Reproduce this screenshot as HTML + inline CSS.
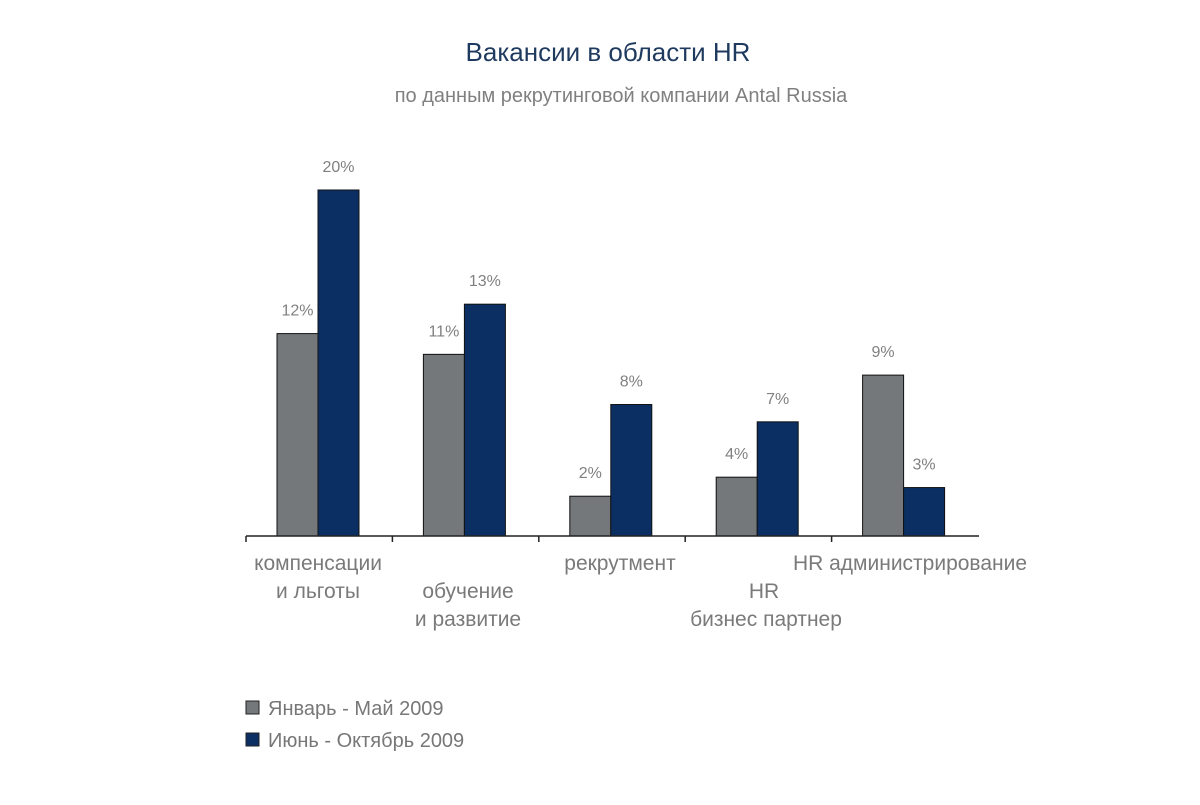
<!DOCTYPE html>
<html><head><meta charset="utf-8"><style>
body{margin:0;background:#fff;}
svg text{font-family:"Liberation Sans","DejaVu Sans",sans-serif;}
</style></head><body>
<svg id="chart" width="1200" height="800" viewBox="0 0 1200 800" xmlns="http://www.w3.org/2000/svg">
<rect width="1200" height="800" fill="#fff"/>
<text x="608" y="61" text-anchor="middle" font-size="26" fill="#1f3a5f">Вакансии в области HR</text>
<text x="621" y="102" text-anchor="middle" font-size="20" fill="#808080">по данным рекрутинговой компании Antal Russia</text>
<g id="bars"></g>
<g id="axis"></g>
<g>
<rect x="246" y="701" width="13" height="13" fill="#74787a" stroke="#222" stroke-width="1"/>
<text x="268" y="715" font-size="20" fill="#777">Январь - Май 2009</text>
<rect x="246" y="733" width="13" height="13" fill="#0b2f63" stroke="#222" stroke-width="1"/>
<text x="268" y="747" font-size="20" fill="#777">Июнь - Октябрь 2009</text>
</g>
</svg>
<script>
const categories = ["компенсации и льготы","обучение и развитие","рекрутмент","HR бизнес партнер","HR администрирование"];
const seriesJanMay = [11.7, 10.5, 2.3, 3.4, 9.3];
const seriesJunOct = [20, 13.4, 7.6, 6.6, 2.8];
const labelsJanMay = ["12%","11%","2%","4%","9%"];
const labelsJunOct = ["20%","13%","8%","7%","3%"];
const NS="http://www.w3.org/2000/svg";
const x0=246, band=146.4, baseY=536, pxPer=17.3;
const yScale=v=>baseY-v*pxPer;
const xBand=i=>x0+i*band;
function mk(tag,attrs,parent){const e=document.createElementNS(NS,tag);for(const k in attrs)e.setAttribute(k,attrs[k]);parent.appendChild(e);return e;}
const bars=document.getElementById('bars'), axis=document.getElementById('axis');
const labelLines=[[["компенсации",318,563],["и льготы",318,591]],[["обучение",468,591],["и развитие",468,619]],[["рекрутмент",620,563]],[["HR",764,591],["бизнес партнер",766,619]],[["HR администрирование",910,563]]];
categories.forEach((c,i)=>{
  const bx=xBand(i)+31, w=41;
  [[seriesJanMay,labelsJanMay,"#74787a","jan-may",0],[seriesJunOct,labelsJunOct,"#0b2f63","jun-oct",1]].forEach(([s,l,col,nm,k])=>{
    const x=bx+k*w, y=yScale(s[i]);
    const r=mk('rect',{x:x,y:y,width:w,height:baseY-y,fill:col,stroke:"#111","stroke-width":1},bars);
    
    
    const t=mk('text',{x:x+w/2,y:y-18,"text-anchor":"middle","font-size":16,fill:"#808080"},bars);
    t.textContent=l[i];
    
    
  });
  const tk=mk('line',{x1:xBand(i),x2:xBand(i),y1:baseY,y2:baseY+6,stroke:"#222","stroke-width":1.5},axis);
  
  
  labelLines[i].forEach(([txt,cx,cy])=>{
    const t=mk('text',{x:cx,y:cy+7,"text-anchor":"middle","font-size":21,fill:"#7a7a7a"},axis);
    t.textContent=txt;
    
    
  });
});
const al=mk('line',{x1:x0,x2:x0+band*5+1,y1:baseY,y2:baseY,stroke:"#222","stroke-width":1.5},axis);


</script>
</body></html>
